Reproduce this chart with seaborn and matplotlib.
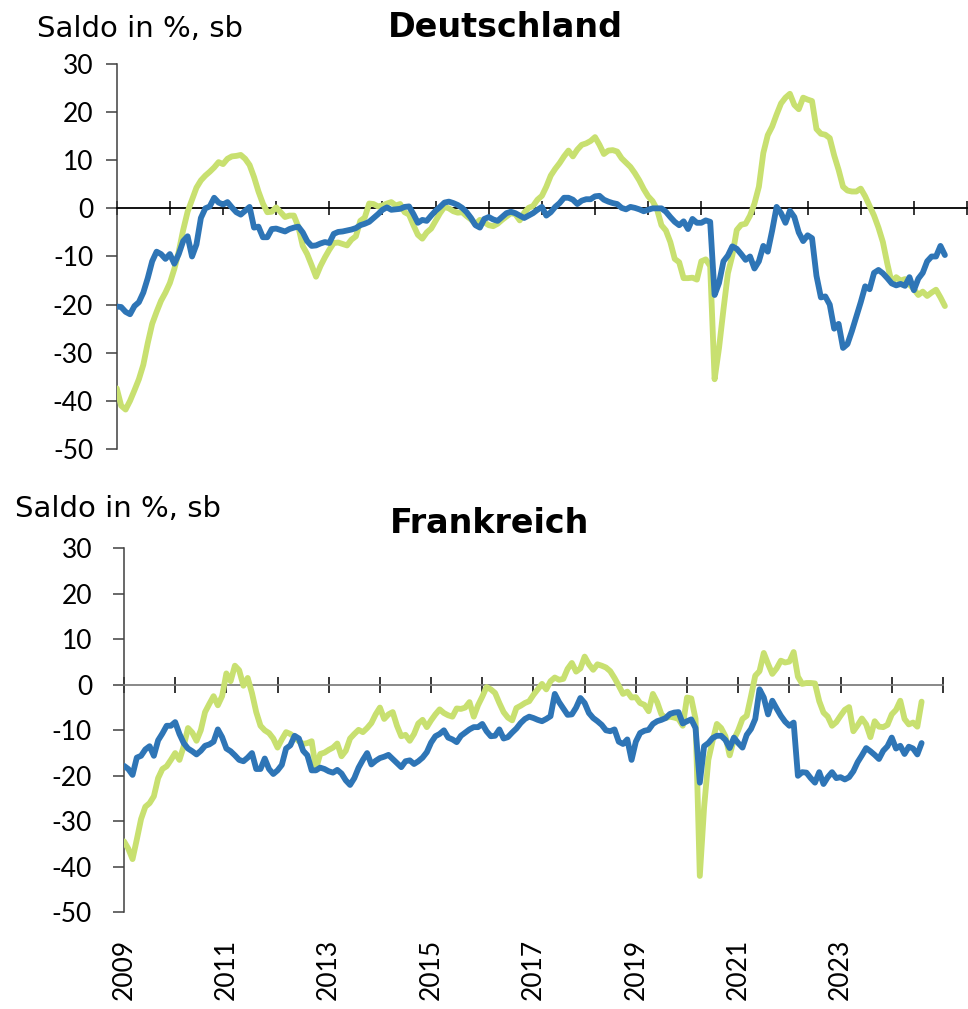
import numpy as np
import pandas as pd
import matplotlib
matplotlib.use("Agg")
import matplotlib.pyplot as plt
import seaborn as sns

# ================== DATEN (monatlich, Jan 2009 - Aug 2024) ================== #
de_blau = [
    -20.4, -20.5, -21.5, -22.0, -20.3, -19.5, -17.5, -14.5, -11.0, -9.0, -9.5, -10.5,
    -9.5, -11.5, -9.5, -6.8, -5.8, -10.0, -7.5, -2.0, 0.0, 0.4, 2.2, 1.2,
    0.8, 1.3, 0.2, -0.8, -1.3, -0.5, 0.3, -4.0, -3.8, -6.0, -6.0, -4.3,
    -4.2, -4.5, -4.8, -4.3, -4.0, -3.8, -5.0, -6.8, -7.8, -7.7, -7.3, -7.0,
    -7.2, -5.3, -4.9, -4.8, -4.6, -4.4, -4.1, -3.5, -3.2, -2.8, -2.0, -1.2,
    -0.3, 0.2, -0.3, -0.2, -0.1, 0.3, 0.4, -1.2, -3.0, -2.4, -2.6, -1.5,
    -0.5, 0.3, 1.2, 1.4, 1.1, 0.7, 0.1, -0.8, -2.0, -3.5, -4.0, -2.2,
    -1.8, -2.3, -2.6, -1.8, -1.0, -0.7, -1.0, -1.5, -2.0, -1.5, -1.0, -0.3,
    0.3, -1.5, -0.8, 0.3, 1.1, 2.2, 2.2, 1.8, 0.9, 1.6, 1.9, 1.9,
    2.5, 2.6, 1.8, 1.4, 1.1, 0.9, 0.1, -0.2, 0.3, 0.1, -0.2, -0.6,
    -0.3, 0.0, 0.0, 0.0, -0.7, -1.8, -2.8, -3.5, -2.7, -4.3, -2.2, -3.0,
    -3.0, -2.5, -2.8, -18.0, -15.5, -11.0, -9.8, -7.9, -8.4, -9.5, -10.7, -10.0,
    -12.5, -11.0, -7.8, -9.0, -4.6, 0.3, -1.0, -3.0, -0.5, -1.8, -5.0, -6.8,
    -5.6, -6.2, -14.0, -18.5, -18.3, -20.0, -25.0, -24.0, -29.0, -28.2, -25.5, -22.5,
    -19.5, -16.2, -16.8, -13.4, -12.8, -13.5, -14.5, -15.6, -16.0, -15.7, -16.1, -14.3,
    -17.0, -14.6, -13.4, -11.0, -10.0, -10.0, -7.8, -9.7,
]

de_gruen = [
    -37.4, -41.0, -41.8, -40.0, -37.8, -35.5, -32.5, -28.0, -24.0, -21.5, -19.2, -17.5,
    -15.5, -12.6, -9.0, -4.5, -0.7, 1.8, 4.3, 5.8, 6.8, 7.6, 8.5, 9.6,
    9.2, 10.3, 10.8, 10.9, 11.1, 10.3, 9.0, 6.5, 3.5, 1.0, -0.8, -0.7,
    0.2, -0.8, -1.8, -1.5, -1.5, -3.8, -7.8, -9.5, -11.8, -14.2, -12.0, -10.2,
    -8.6, -7.2, -7.1, -7.4, -7.7, -6.5, -5.8, -2.6, -1.9, 1.0, 0.9, 0.4,
    0.6, 1.0, 1.3, 0.6, 0.9, -0.8, -1.3, -3.5, -5.5, -6.3, -5.0, -4.2,
    -2.6, -1.0, 0.3, 0.0, -0.6, -0.9, -0.8, -1.6, -2.3, -3.3, -2.4, -2.9,
    -3.5, -3.7, -3.2, -2.4, -1.7, -1.0, -1.2, -2.5, -0.9, 0.1, 0.5, 1.8,
    2.6, 4.5, 6.8, 8.2, 9.4, 10.8, 12.0, 10.8, 12.2, 13.2, 13.5, 14.0,
    14.8, 13.2, 11.3, 12.0, 12.1, 11.8, 10.4, 9.5, 8.6, 7.3, 5.8, 4.0,
    2.5, 1.5, -0.2, -3.5, -4.6, -7.0, -10.5, -11.2, -14.5, -14.5, -14.4, -14.8,
    -11.0, -10.6, -12.0, -35.5, -29.0, -21.0, -13.5, -9.8, -4.5, -3.4, -3.2, -1.5,
    1.0, 4.5, 11.5, 15.2, 17.0, 19.5, 21.8, 23.0, 23.8, 21.5, 20.6, 23.0,
    22.6, 22.3, 16.5, 15.5, 15.3, 14.6, 11.0, 8.0, 4.5, 3.7, 3.5, 3.5,
    4.1, 2.5, 0.5, -1.5, -4.0, -7.0, -11.5, -15.5, -14.3, -15.0, -14.7, -15.8,
    -16.8, -18.0, -17.3, -18.2, -17.5, -16.9, -18.5, -20.3,
]

fr_blau = [
    -17.8, -18.5, -19.8, -16.0, -15.6, -14.2, -13.5, -15.6, -12.2, -10.7, -9.0, -9.0,
    -8.2, -10.8, -12.8, -14.0, -14.6, -15.3, -14.5, -13.4, -13.1, -12.5, -9.8, -11.5,
    -14.0, -14.6, -15.5, -16.5, -16.8, -16.0, -15.0, -18.5, -18.5, -16.2, -18.5, -19.6,
    -18.8, -17.6, -14.0, -13.3, -11.2, -11.8, -14.5, -15.5, -18.8, -18.8, -18.2, -18.5,
    -19.0, -19.3, -18.7, -19.5, -21.0, -22.0, -20.5, -18.2, -16.5, -15.0, -17.5, -16.7,
    -16.1, -15.8, -15.4, -16.3, -17.2, -18.1, -16.8, -16.6, -17.4, -16.8, -16.0, -14.8,
    -12.7, -11.3, -10.8, -10.0, -11.6, -12.0, -12.6, -11.2, -10.5, -9.8, -9.3, -9.3,
    -8.6, -10.2, -11.3, -11.2, -9.8, -11.8, -11.5, -10.5, -9.6, -8.4, -7.5, -7.0,
    -7.3, -7.7, -8.0, -7.5, -6.9, -2.0, -3.8, -5.2, -6.6, -6.5, -5.0, -2.9,
    -4.0, -6.2, -7.3, -8.0, -8.8, -10.0, -10.2, -9.8, -12.5, -13.0, -12.0, -16.5,
    -12.5, -10.6, -10.1, -9.9, -8.6, -8.0, -7.7, -7.3, -6.4, -6.1, -6.0, -8.5,
    -8.0, -7.6, -9.5, -21.5, -13.5, -12.8, -11.7, -11.2, -11.2, -12.1, -13.9, -11.6,
    -12.8, -13.8, -11.0, -9.7, -7.5, -1.0, -2.8, -6.5, -3.5, -5.2, -6.8, -8.1,
    -9.0, -8.3, -20.0, -19.2, -19.3, -20.5, -21.5, -19.2, -21.8, -20.3, -19.2, -20.5,
    -20.3, -20.8, -20.3, -19.0, -17.0, -15.5, -13.9, -14.6, -15.4, -16.3, -14.5, -13.5,
    -11.6, -14.0, -13.4, -15.2, -13.6, -14.0, -15.3, -12.8,
]

fr_gruen = [
    -34.4, -36.0, -38.3, -34.0, -29.5, -26.8, -26.0, -24.5, -20.5, -18.5, -17.9, -16.5,
    -15.0, -16.5, -13.5, -9.5, -10.5, -12.3, -10.0, -6.0, -4.2, -2.5, -4.5, -2.5,
    2.5, 0.8, 4.2, 3.2, -0.2, 1.5, -1.8, -6.0, -9.0, -10.0, -10.6, -11.8,
    -13.8, -12.0, -10.4, -10.8, -11.5, -12.4, -13.0, -12.8, -12.4, -18.5, -15.2, -14.9,
    -14.3, -13.8, -12.9, -15.7, -14.5, -11.8, -10.8, -9.9, -10.4, -9.5, -8.4, -6.5,
    -5.0, -7.5, -6.5, -6.0, -9.0, -11.3, -11.0, -12.3, -10.8, -8.5, -7.7, -9.3,
    -7.8, -6.5, -5.4, -6.2, -6.7, -7.0, -5.2, -5.3, -5.0, -3.8, -7.0, -4.5,
    -2.6, -0.5, -1.0, -1.8, -4.0, -6.0, -7.2, -7.8, -5.1, -4.6, -4.0, -3.6,
    -2.2, -1.0, 0.2, -1.0, 0.8, 1.6, 1.1, 1.3, 3.5, 4.8, 2.9, 3.6,
    6.2, 4.5, 3.3, 4.5, 4.2, 3.8, 3.0, 1.5, -0.2, -2.0, -1.5, -2.8,
    -2.7, -4.0, -4.4, -5.8, -2.0, -3.8, -6.5, -7.3, -7.0, -7.2, -7.5, -9.0,
    -2.8, -3.0, -7.5, -42.0, -27.0, -16.5, -12.3, -8.6, -9.5, -11.3, -15.5, -12.0,
    -10.0, -7.5, -6.8, -2.5, 2.0, 3.0, 7.0, 4.6, 2.4, 3.6, 5.3, 4.9,
    5.1, 7.2, 1.8, 0.2, 0.4, 0.4, 0.3, -3.6, -6.1, -7.0, -9.0, -8.2,
    -6.8, -5.5, -4.9, -10.2, -8.9, -7.4, -8.7, -11.5, -8.0, -9.2, -9.3, -8.8,
    -6.5, -5.5, -3.5, -7.5, -8.7, -8.3, -9.2, -3.7,
]

jahre_ticks = list(range(2009, 2026))
jahre_labels = list(range(2009, 2024, 2))
y_ticks = list(range(-50, 31, 10))

BLAU = "#2E75B6"
GRUEN = "#C8E070"

# ================== STIL ================== #
sns.set_theme(style="white")
plt.rcParams["font.family"] = ["Lato", "DejaVu Sans"]
plt.rcParams["axes.unicode_minus"] = False
plt.rcParams["text.color"] = "black"
plt.rcParams["xtick.labelcolor"] = "black"
plt.rcParams["ytick.labelcolor"] = "black"

zeit = 2009 + np.arange(len(de_blau)) / 12.0
df_de = pd.DataFrame({"zeit": zeit, "blau": de_blau, "gruen": de_gruen})
df_fr = pd.DataFrame({"zeit": zeit, "blau": fr_blau, "gruen": fr_gruen})

fig = plt.figure(figsize=(9.68, 10.09), dpi=100)
ax_de = fig.add_axes([0.1206, 0.555, 0.8784, 0.3816])
ax_fr = fig.add_axes([0.1281, 0.0958, 0.846, 0.3608])


def panel(ax, df, achse_farbe, ylab_pad, xtick_len):
    sns.lineplot(data=df, x="zeit", y="gruen", color=GRUEN, linewidth=4.2, ax=ax, zorder=3)
    sns.lineplot(data=df, x="zeit", y="blau", color=BLAU, linewidth=4.2, ax=ax, zorder=4)
    ax.set_xlim(2009, 2025)
    ax.set_ylim(-50, 30)
    ax.set_yticks(y_ticks)
    ax.set_xticks(jahre_ticks)
    ax.set_xticklabels([])
    ax.set_xlabel("")
    ax.set_ylabel("")
    for s in ["top", "right"]:
        ax.spines[s].set_visible(False)
    ax.spines["bottom"].set_position(("data", 0))
    ax.spines["bottom"].set_color(achse_farbe)
    ax.spines["bottom"].set_linewidth(1.3)
    ax.spines["left"].set_color("#404040")
    ax.spines["left"].set_linewidth(1.1)
    ax.tick_params(axis="y", direction="out", length=8, width=1.1, color="#404040",
                   labelsize=19, labelcolor="black", pad=ylab_pad, left=True)
    ax.tick_params(axis="x", direction="inout", length=xtick_len, width=1.1,
                   color="black", bottom=True)
    ax.grid(False)


panel(ax_de, df_de, "black", 9, 10)
panel(ax_fr, df_fr, "#7F7F7F", 15, 11.5)

# Jahreszahlen unten (gedreht)
sec = ax_fr.secondary_xaxis("bottom")
sec.set_xticks(jahre_labels)
sec.set_xticklabels([str(j) for j in jahre_labels], rotation=90, fontsize=19, color="black")
sec.tick_params(length=0, pad=19)
sec.spines["bottom"].set_visible(False)

# Titel und Achsenbeschriftungen
titel_font = ["DejaVu Sans"]
fig.text(0.038, 0.963, "Saldo in %, sb", fontsize=21, family=titel_font, va="baseline", ha="left")
fig.text(0.522, 0.963, "Deutschland", fontsize=24, fontweight="bold", family=titel_font,
         va="baseline", ha="center")
fig.text(0.0155, 0.4876, "Saldo in %, sb", fontsize=21, family=titel_font, va="baseline", ha="left")
fig.text(0.506, 0.4717, "Frankreich", fontsize=24, fontweight="bold", family=titel_font,
         va="baseline", ha="center")

fig.savefig("out.png", dpi=100)
